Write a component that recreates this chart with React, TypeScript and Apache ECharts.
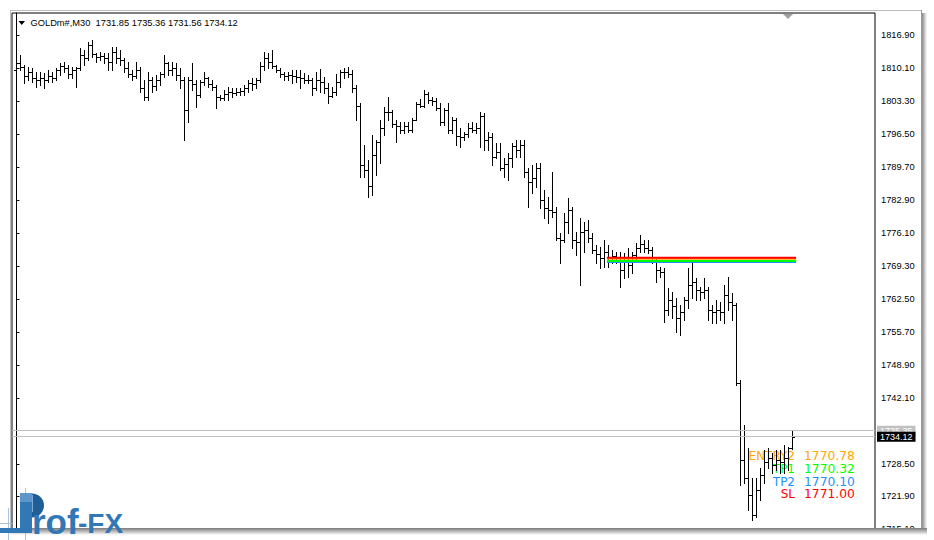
import React, { useEffect, useRef } from "react";
import * as echarts from "echarts";

// ---- data (GOLDm#, M30 bars) ----
const symbolName = "GOLDm#";
const timeframe = "M30";

const opens = [
  1809.68, 1811.13, 1810.30, 1808.45, 1809.27, 1808.03, 1807.62, 1808.03, 1807.62, 1808.45,
  1808.03, 1809.68, 1810.51, 1810.09, 1808.86, 1809.68, 1810.09, 1812.77, 1812.16, 1814.84,
  1812.98, 1812.36, 1812.57, 1812.16, 1811.33, 1813.39, 1812.16, 1811.74, 1810.09, 1808.86,
  1808.45, 1809.68, 1805.97, 1804.12, 1807.62, 1806.39, 1807.62, 1808.86, 1811.13, 1809.68,
  1810.09, 1808.65, 1807.62, 1801.44, 1807.62, 1806.80, 1804.53, 1807.21, 1808.03, 1806.80,
  1806.18, 1804.12, 1803.91, 1804.74, 1805.15, 1804.94, 1805.15, 1805.35, 1805.97, 1807.00,
  1806.80, 1807.62, 1810.51, 1812.16, 1811.33, 1810.51, 1809.68, 1808.86, 1808.45, 1808.65,
  1808.45, 1808.24, 1808.03, 1807.62, 1807.62, 1805.97, 1807.62, 1807.21, 1805.97, 1804.32,
  1805.15, 1807.21, 1809.27, 1809.27, 1808.86, 1805.97, 1802.26, 1790.10, 1789.07, 1785.78,
  1792.16, 1794.84, 1797.73, 1801.03, 1801.03, 1798.55, 1798.14, 1797.32, 1798.14, 1797.32,
  1799.38, 1802.68, 1802.26, 1804.74, 1803.50, 1803.29, 1801.85, 1798.97, 1801.44, 1797.32,
  1799.38, 1796.08, 1795.87, 1796.49, 1797.73, 1797.32, 1797.73, 1800.20, 1795.26, 1795.87,
  1791.75, 1792.78, 1789.48, 1790.31, 1791.55, 1794.02, 1793.20, 1794.23, 1788.66, 1786.60,
  1787.42, 1789.48, 1782.89, 1781.24, 1780.83, 1780.42, 1775.06, 1774.65, 1778.36, 1780.83,
  1774.65, 1774.24, 1776.30, 1776.71, 1775.06, 1772.59, 1771.76, 1770.94, 1772.17, 1770.94,
  1771.35, 1770.94, 1768.46, 1770.11, 1769.49, 1771.56, 1773.00, 1773.82, 1773.00, 1772.59,
  1770.52, 1768.46, 1768.05, 1760.22, 1762.28, 1761.04, 1758.57, 1759.81, 1762.28, 1765.37,
  1765.99, 1764.34, 1763.93, 1764.34, 1760.22, 1759.81, 1760.22, 1759.81, 1763.31, 1761.87,
  1761.25, 1745.17, 1729.30, 1725.60, 1722.09, 1717.97, 1723.12, 1726.22, 1728.89, 1729.71,
  1728.27, 1729.30, 1728.89, 1729.71, 1731.85,
];

const highs = [
  1812.36, 1812.77, 1810.71, 1810.30, 1810.09, 1809.27, 1809.27, 1809.06, 1809.68, 1809.27,
  1810.09, 1811.13, 1811.33, 1810.71, 1810.30, 1810.30, 1814.22, 1813.80, 1815.45, 1815.87,
  1813.19, 1813.39, 1813.19, 1813.19, 1814.42, 1814.42, 1813.80, 1812.16, 1811.33, 1809.68,
  1811.33, 1810.30, 1807.62, 1809.27, 1808.24, 1808.65, 1809.27, 1812.77, 1811.33, 1811.33,
  1811.13, 1810.09, 1808.24, 1808.24, 1811.13, 1807.62, 1807.62, 1809.27, 1808.24, 1807.62,
  1806.59, 1804.53, 1805.56, 1806.18, 1805.97, 1805.97, 1805.97, 1806.59, 1807.62, 1808.03,
  1808.03, 1811.33, 1813.39, 1813.19, 1813.80, 1810.71, 1810.09, 1809.27, 1809.27, 1809.68,
  1809.68, 1809.68, 1809.06, 1808.65, 1808.03, 1809.27, 1809.89, 1808.24, 1807.00, 1806.18,
  1808.86, 1809.68, 1810.09, 1810.30, 1809.68, 1806.59, 1802.88, 1794.23, 1791.13, 1796.29,
  1795.26, 1799.38, 1802.06, 1804.12, 1801.44, 1799.38, 1798.97, 1798.97, 1798.97, 1799.79,
  1803.09, 1803.71, 1805.56, 1805.15, 1804.12, 1803.91, 1802.88, 1801.85, 1802.88, 1800.00,
  1799.79, 1797.73, 1796.91, 1798.76, 1798.97, 1798.76, 1801.03, 1800.82, 1796.91, 1796.70,
  1794.64, 1794.64, 1791.55, 1792.58, 1794.64, 1795.26, 1795.26, 1795.26, 1789.48, 1790.10,
  1790.51, 1790.51, 1784.95, 1783.51, 1788.66, 1781.45, 1776.09, 1780.21, 1783.30, 1781.45,
  1776.30, 1779.18, 1778.36, 1778.77, 1776.09, 1773.62, 1773.20, 1774.65, 1773.62, 1772.59,
  1772.17, 1772.17, 1771.97, 1773.00, 1772.17, 1774.03, 1775.68, 1774.65, 1774.65, 1773.20,
  1770.94, 1769.08, 1768.87, 1764.75, 1763.93, 1762.69, 1761.25, 1762.90, 1768.87, 1770.11,
  1766.81, 1764.96, 1766.81, 1764.96, 1761.25, 1762.28, 1761.87, 1765.37, 1767.02, 1763.72,
  1761.66, 1745.79, 1736.52, 1731.78, 1725.60, 1725.60, 1727.66, 1731.36, 1731.78, 1730.75,
  1731.36, 1731.36, 1732.40, 1731.98, 1735.36,
];

const lows = [
  1808.65, 1809.68, 1807.00, 1807.62, 1807.21, 1806.18, 1806.59, 1805.97, 1807.21, 1807.21,
  1807.62, 1808.65, 1809.27, 1808.03, 1808.03, 1806.18, 1809.68, 1810.71, 1811.74, 1812.36,
  1811.33, 1811.74, 1811.13, 1809.68, 1809.68, 1811.13, 1810.71, 1809.27, 1808.24, 1807.62,
  1808.03, 1805.15, 1803.50, 1803.50, 1805.15, 1805.56, 1806.59, 1808.24, 1808.65, 1808.65,
  1807.62, 1805.97, 1795.26, 1798.97, 1805.56, 1802.06, 1804.12, 1806.59, 1806.18, 1805.56,
  1801.85, 1803.50, 1803.50, 1803.50, 1804.12, 1804.53, 1804.53, 1804.53, 1805.15, 1805.56,
  1805.97, 1807.21, 1809.68, 1810.09, 1810.09, 1809.27, 1808.24, 1807.62, 1807.62, 1807.00,
  1807.21, 1805.97, 1807.00, 1807.00, 1804.53, 1805.56, 1805.15, 1804.94, 1802.88, 1804.12,
  1804.53, 1806.18, 1808.03, 1808.24, 1805.15, 1799.38, 1787.63, 1787.63, 1783.51, 1783.92,
  1788.04, 1790.51, 1796.29, 1799.38, 1797.94, 1794.84, 1796.70, 1796.70, 1796.91, 1796.91,
  1799.38, 1802.06, 1802.06, 1802.88, 1802.47, 1801.44, 1798.35, 1798.35, 1796.70, 1796.70,
  1794.23, 1793.81, 1795.26, 1795.87, 1796.91, 1796.70, 1793.81, 1793.20, 1793.20, 1790.10,
  1791.55, 1789.07, 1787.63, 1787.01, 1789.69, 1791.75, 1791.75, 1787.63, 1781.45, 1784.33,
  1785.57, 1781.24, 1779.18, 1778.15, 1779.39, 1774.65, 1769.91, 1774.24, 1776.09, 1773.00,
  1771.56, 1765.37, 1772.17, 1774.24, 1771.97, 1769.91, 1768.87, 1769.08, 1769.08, 1769.91,
  1769.91, 1764.96, 1766.81, 1767.02, 1767.84, 1770.52, 1772.17, 1772.17, 1771.97, 1769.91,
  1765.99, 1767.02, 1757.75, 1759.19, 1758.57, 1755.69, 1755.07, 1758.16, 1760.63, 1762.69,
  1762.28, 1762.28, 1762.69, 1758.16, 1757.54, 1757.54, 1758.16, 1757.54, 1760.22, 1758.16,
  1744.76, 1724.15, 1724.57, 1719.00, 1716.94, 1717.56, 1721.06, 1724.57, 1727.66, 1726.63,
  1727.25, 1726.63, 1726.63, 1727.25, 1731.56,
];

const closes = [
  1811.13, 1810.30, 1808.45, 1809.27, 1808.03, 1807.62, 1808.03, 1807.62, 1808.45, 1808.03,
  1809.68, 1810.51, 1810.09, 1808.86, 1809.68, 1810.09, 1812.77, 1812.16, 1814.84, 1812.98,
  1812.36, 1812.57, 1812.16, 1811.33, 1813.39, 1812.16, 1811.74, 1810.09, 1808.86, 1808.45,
  1809.68, 1805.97, 1804.12, 1807.62, 1806.39, 1807.62, 1808.86, 1811.13, 1809.68, 1810.09,
  1808.65, 1807.62, 1801.44, 1807.62, 1806.80, 1804.53, 1807.21, 1808.03, 1806.80, 1806.18,
  1804.12, 1803.91, 1804.74, 1805.15, 1804.94, 1805.15, 1805.35, 1805.97, 1807.00, 1806.80,
  1807.62, 1810.51, 1812.16, 1811.33, 1810.51, 1809.68, 1808.86, 1808.45, 1808.65, 1808.45,
  1808.24, 1808.03, 1807.62, 1807.62, 1805.97, 1807.62, 1807.21, 1805.97, 1804.32, 1805.15,
  1807.21, 1809.27, 1809.27, 1808.86, 1805.97, 1802.26, 1790.10, 1789.07, 1785.78, 1792.16,
  1794.84, 1797.73, 1801.03, 1801.03, 1798.55, 1798.14, 1797.32, 1798.14, 1797.32, 1799.38,
  1802.68, 1802.26, 1804.74, 1803.50, 1803.29, 1801.85, 1798.97, 1801.44, 1797.32, 1799.38,
  1796.08, 1795.87, 1796.49, 1797.73, 1797.32, 1797.73, 1800.20, 1795.26, 1795.87, 1791.75,
  1792.78, 1789.48, 1790.31, 1791.55, 1794.02, 1793.20, 1794.23, 1788.66, 1786.60, 1787.42,
  1789.48, 1782.89, 1781.24, 1780.83, 1780.42, 1775.06, 1774.65, 1778.36, 1780.83, 1774.65,
  1774.24, 1776.30, 1776.71, 1775.06, 1772.59, 1771.76, 1770.94, 1772.17, 1770.94, 1771.35,
  1770.94, 1768.46, 1770.11, 1769.49, 1771.56, 1773.00, 1773.82, 1773.00, 1772.59, 1770.52,
  1768.46, 1768.05, 1760.22, 1762.28, 1761.04, 1758.57, 1759.81, 1762.28, 1765.37, 1765.99,
  1764.34, 1763.93, 1764.34, 1760.22, 1759.81, 1760.22, 1759.81, 1763.31, 1761.87, 1761.25,
  1745.17, 1729.30, 1725.60, 1722.09, 1717.97, 1723.12, 1726.22, 1728.89, 1729.71, 1728.27,
  1729.30, 1728.89, 1729.71, 1731.85, 1734.12,
];

// price scale labels
const tickLabels = [
  "1816.90", "1810.10", "1803.30", "1796.50", "1789.70", "1782.90", "1776.10", "1769.30",
  "1762.50", "1755.70", "1748.90", "1742.10", "1728.50", "1721.90", "1715.10",
];

// trade levels
const levelNames = ["ENTRY2", "TP1", "TP2", "SL"];
const levelValues = [1770.78, 1770.32, 1770.1, 1771.0];
const levelColors = ["#FFA500", "#00FF00", "#1E90FF", "#FF0000"];
const levelStartBar = 147.6;
const levelEndBar = 194.9;

const bidPrice = 1734.12;
const askPrice = 1735.35;

const FONT = "'Liberation Sans', Arial, sans-serif";

export default function App() {
  const ref = useRef<HTMLDivElement>(null);

  useEffect(() => {
    if (!ref.current) return;
    const chart = echarts.init(ref.current, undefined, { renderer: "svg" });

    const bars = opens.map((o, i) => [i, o, highs[i], lows[i], closes[i]]);
    const last = bars.length - 1;
    const header = `${symbolName},${timeframe}  ${opens[last].toFixed(2)} ${highs[last].toFixed(2)} ${lows[last].toFixed(2)} ${closes[last].toFixed(2)}`;

    const renderBar = (_params: any, api: any) => {
      const i = api.value(0);
      const po = api.coord([i, api.value(1)]);
      const ph = api.coord([i, api.value(2)]);
      const pl = api.coord([i, api.value(3)]);
      const pc = api.coord([i, api.value(4)]);
      const x = Math.floor(po[0]) + 0.5;
      const top = Math.round(ph[1]);
      const bot = Math.round(pl[1]) + 1;
      const yo = Math.round(po[1]) + 0.5;
      const yc = Math.round(pc[1]) + 0.5;
      const st = { stroke: "#000", lineWidth: 1 };
      return {
        type: "group",
        children: [
          { type: "line", shape: { x1: x, y1: top, x2: x, y2: bot }, style: st },
          { type: "line", shape: { x1: x - 2.5, y1: yo, x2: x - 0.5, y2: yo }, style: st },
          { type: "line", shape: { x1: x + 0.5, y1: yc, x2: x + 2.5, y2: yc }, style: st },
        ],
      };
    };

    // draw order: TP2, TP1, ENTRY2, SL (SL on top)
    const drawOrder = [2, 1, 0, 3];
    const levelSeries = drawOrder.map((k, n) => ({
      type: "line",
      name: levelNames[k],
      data: [
        [levelStartBar, levelValues[k]],
        [levelEndBar, levelValues[k]],
      ],
      symbol: "none",
      silent: true,
      z: 4,
      lineStyle: { color: levelColors[k], width: 2 },
      ...(n === 0
        ? {
            markLine: {
              silent: true,
              symbol: ["none", "none"],
              animation: false,
              data: [
                {
                  yAxis: askPrice,
                  lineStyle: { color: "#c0c0c0", width: 1, type: "solid" },
                  label: {
                    show: true,
                    position: "end",
                    distance: 2,
                    formatter: () => askPrice.toFixed(2),
                    color: "#ffffff",
                    backgroundColor: "#c0c0c0",
                    padding: [1, 3, 0, 3],
                    fontSize: 9,
                    lineHeight: 9,
                    fontFamily: FONT,
                  },
                },
                {
                  yAxis: bidPrice,
                  lineStyle: { color: "#c0c0c0", width: 1, type: "solid" },
                  label: {
                    show: true,
                    position: "end",
                    distance: 2,
                    formatter: () => bidPrice.toFixed(2),
                    color: "#ffffff",
                    backgroundColor: "#000000",
                    padding: [1, 3, 0, 3],
                    fontSize: 9,
                    lineHeight: 9,
                    fontFamily: FONT,
                  },
                },
              ],
            },
          }
        : {}),
    }));

    const levelText: any[] = [];
    levelNames.forEach((nm, k) => {
      const cy = 456 + k * 12.8;
      levelText.push({
        type: "text",
        z: 1,
        silent: true,
        style: {
          text: nm,
          x: 795,
          y: cy,
          align: "right",
          verticalAlign: "middle",
          fill: levelColors[k],
          fontSize: 12,
          lineHeight: 12,
          fontFamily: "'DejaVu Sans', sans-serif",
        },
      });
      levelText.push({
        type: "text",
        z: 1,
        silent: true,
        style: {
          text: levelValues[k].toFixed(2),
          x: 804,
          y: cy,
          align: "left",
          verticalAlign: "middle",
          fill: levelColors[k],
          fontSize: 12.3,
          lineHeight: 12,
          fontFamily: "'DejaVu Sans', sans-serif",
        },
      });
    });

    const logoBlue = "#3277b6";
    const graphics: any[] = [
      // window frame
      { type: "line", z: 90, silent: true, shape: { x1: 10, y1: 10.5, x2: 922, y2: 10.5 }, style: { stroke: "#bdbdbd", lineWidth: 1 } },
      { type: "line", z: 90, silent: true, shape: { x1: 10.5, y1: 10, x2: 10.5, y2: 530 }, style: { stroke: "#bdbdbd", lineWidth: 1 } },
      { type: "line", z: 90, silent: true, shape: { x1: 921.5, y1: 10, x2: 921.5, y2: 530 }, style: { stroke: "#9a9a9a", lineWidth: 1 } },
      {
        type: "rect", z: 90, silent: true,
        shape: { x: 922, y: 13, width: 5, height: 522 },
        style: { fill: new echarts.graphic.LinearGradient(0, 0, 1, 0, [{ offset: 0, color: "#8a8a8a" }, { offset: 1, color: "#ffffff" }]) },
      },
      {
        type: "rect", z: 90, silent: true,
        shape: { x: 10, y: 528, width: 917, height: 7 },
        style: { fill: new echarts.graphic.LinearGradient(0, 0, 0, 1, [{ offset: 0, color: "#7a7a7a" }, { offset: 1, color: "#ffffff" }]) },
      },
      // header
      { type: "polygon", z: 10, silent: true, shape: { points: [[18.5, 21], [25, 21], [21.75, 25]] }, style: { fill: "#000" } },
      {
        type: "text", z: 10, silent: true,
        style: { text: header, x: 30.5, y: 23, verticalAlign: "middle", fill: "#000", fontSize: 9.3, fontFamily: FONT },
      },
      // chart shift marker
      { type: "polygon", z: 10, silent: true, shape: { points: [[783, 14], [793, 14], [788, 19]] }, style: { fill: "#a0a0a0" } },
      ...levelText,
      // logo
      { type: "line", z: 100, silent: true, shape: { x1: 8.5, y1: 508, x2: 8.5, y2: 540 }, style: { stroke: "#a9c3de", lineWidth: 1 } },
      { type: "line", z: 100, silent: true, shape: { x1: 25.5, y1: 488, x2: 25.5, y2: 540 }, style: { stroke: "#a9c3de", lineWidth: 1 } },
      { type: "line", z: 100, silent: true, shape: { x1: 0, y1: 523.5, x2: 12, y2: 523.5 }, style: { stroke: "#a9c3de", lineWidth: 1 } },
      { type: "rect", z: 100, silent: true, shape: { x: 0, y: 528, width: 21, height: 5 }, style: { fill: logoBlue } },
      { type: "rect", z: 101, silent: true, shape: { x: 20, y: 493, width: 12, height: 40 }, style: { fill: logoBlue } },
      { type: "rect", z: 102, silent: true, shape: { x: 20, y: 493, width: 12, height: 9 }, style: { fill: "#5f96c9" } },
      {
        type: "sector", z: 101, silent: true,
        shape: { cx: 32, cy: 505.5, r: 12, r0: 0, startAngle: -Math.PI / 2, endAngle: Math.PI / 2, clockwise: true },
        style: { fill: "#1f5e96" },
      },
      { type: "line", z: 103, silent: true, shape: { x1: 32.5, y1: 495, x2: 32.5, y2: 512 }, style: { stroke: "#7fa9d3", lineWidth: 1 } },
      {
        type: "text", z: 101, silent: true,
        style: { text: "rof", x: 32, y: 521, verticalAlign: "middle", fill: logoBlue, fontSize: 35, fontWeight: "bold", fontFamily: FONT },
      },
      {
        type: "text", z: 101, silent: true,
        style: { text: "-FX", x: 78, y: 523.3, verticalAlign: "middle", fill: logoBlue, fontSize: 28, fontWeight: "bold", fontFamily: FONT },
      },
    ];

    chart.setOption({
      animation: false,
      backgroundColor: "#ffffff",
      grid: {
        left: 12,
        top: 13,
        width: 863,
        height: 517,
        show: true,
        borderColor: "#000",
        borderWidth: 1,
        backgroundColor: "transparent",
      },
      xAxis: {
        type: "value",
        min: -1.125,
        max: 214.625,
        show: false,
      },
      yAxis: {
        type: "value",
        position: "right",
        min: 1714.88,
        max: 1821.43,
        scale: true,
        splitLine: { show: false },
        axisLine: { show: true, lineStyle: { color: "#000", width: 1 } },
        axisTick: {
          show: true,
          length: 3,
          inside: false,
          lineStyle: { color: "#000" },
          customValues: tickLabels.map(Number),
        },
        axisLabel: {
          show: true,
          margin: 6,
          color: "#000",
          fontSize: 9.3,
          fontFamily: FONT,
          customValues: tickLabels.map(Number),
          formatter: (v: number) => v.toFixed(2),
        },
      },
      series: [
        {
          type: "custom",
          name: "bars",
          renderItem: renderBar,
          data: bars,
          encode: { x: 0, y: [1, 2, 3, 4] },
          clip: true,
          silent: true,
          z: 2,
        },
        ...levelSeries,
      ],
      graphic: graphics,
    });

    return () => chart.dispose();
  }, []);

  return (
    <div
      ref={ref}
      style={{ position: "absolute", left: 0, top: 0, width: 934, height: 540 }}
    />
  );
}
